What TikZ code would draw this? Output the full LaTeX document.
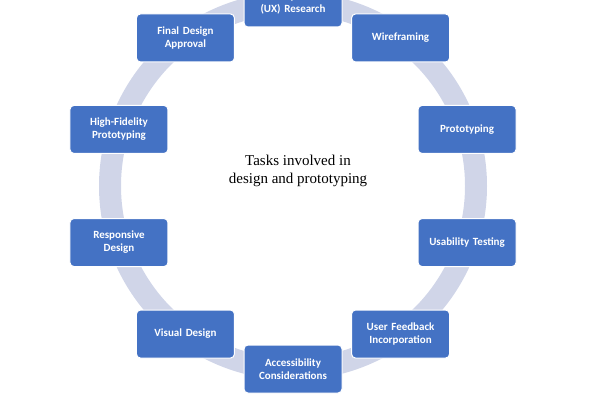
\documentclass[tikz,border=0pt]{standalone}
\usepackage{fontspec}
\setmainfont{Liberation Serif}
\newfontfamily\boxfont{Carlito}
\usetikzlibrary{calc}
\definecolor{taskblue}{RGB}{68,114,196}
\definecolor{ringgray}{RGB}{208,213,232}
\tikzset{
  task/.style={rectangle, rounded corners=4pt, draw=white, line width=1pt, fill=taskblue,
    text=white, font=\boxfont\bfseries\fontsize{11}{13}\selectfont, align=center,
    minimum width=98pt, minimum height=48pt, text width=94pt, inner sep=2pt},
  ring/.style={draw=ringgray, line width=22pt}
}
\begin{document}
\begin{tikzpicture}[x=1pt,y=1pt]
\useasboundingbox (0,0) rectangle (600,400);
\coordinate (center) at (293,214);
\draw [ring] (center) circle (183);
\node [font=\fontsize{15}{18}\selectfont, align=center] (title) at (298,229) {Tasks involved in\\design and prototyping};
\foreach \name/\label [count=\i from 0] in {
  ux/User Experience\\(UX) Research,
  wire/Wireframing,
  proto/Prototyping,
  usab/Usability Testing,
  feed/User Feedback\\Incorporation,
  access/Accessibility\\Considerations,
  visual/Visual Design,
  resp/Responsive\\Design,
  hifi/High-Fidelity\\Prototyping,
  final/Final Design\\Approval}
  \node [task] (\name) at ($(center)+({90-36*\i}:183)$) {\label};
\end{tikzpicture}
\end{document}
